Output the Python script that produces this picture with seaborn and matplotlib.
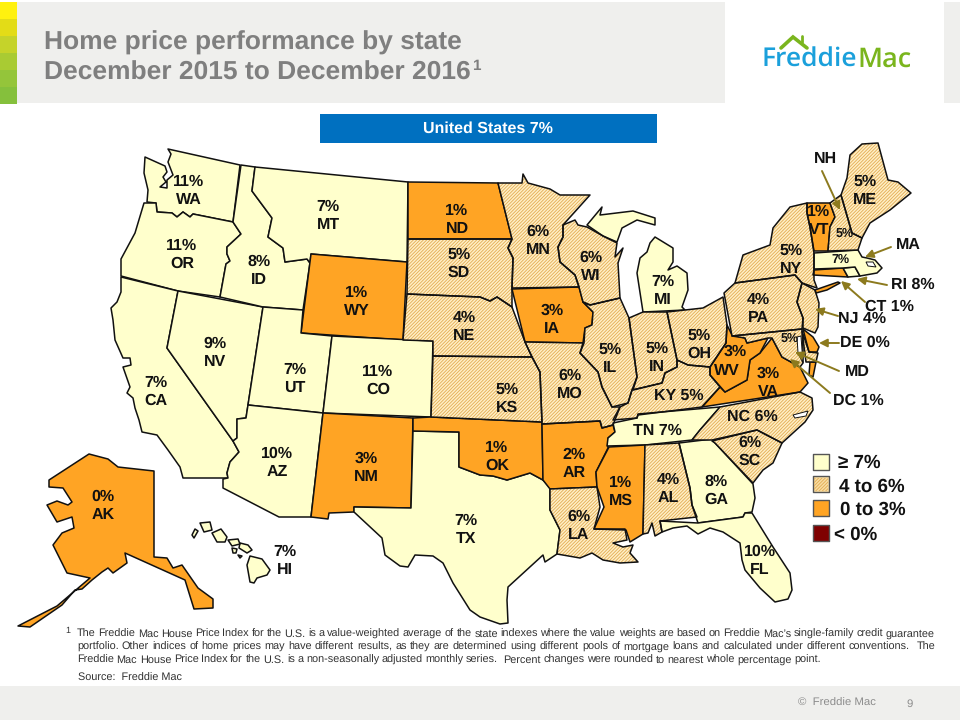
import matplotlib
matplotlib.use('Agg')
import matplotlib.pyplot as plt
from matplotlib.patches import Polygon, Rectangle
import pandas as pd
import seaborn as sns

# values
states = ['WA', 'OR', 'CA', 'NV', 'ID', 'MT', 'WY', 'UT', 'CO', 'AZ', 'NM', 'TX', 'OK', 'KS', 'NE', 'SD', 'ND',
          'MN', 'IA', 'MO', 'AR', 'LA', 'WI', 'IL', 'MI', 'IN', 'OH', 'KY', 'TN', 'MS', 'AL', 'GA', 'FL', 'SC',
          'NC', 'VA', 'WV', 'MD', 'DE', 'PA', 'NJ', 'NY', 'CT', 'RI', 'MA', 'VT', 'NH', 'ME', 'AK', 'HI']
pct = [11, 11, 7, 9, 8, 7, 1, 7, 11, 10, 3, 7, 1, 5, 4, 5, 1,
       6, 3, 6, 2, 6, 6, 5, 7, 5, 5, 5, 7, 1, 4, 8, 10, 6,
       6, 3, 3, 5, 0, 4, 4, 5, 1, 8, 7, 1, 5, 5, 0, 7]
legend_labels = ['≥ 7%', '4 to 6%', '0 to 3%', '< 0%']
legend_colors = ['#FFFFCC', '#F8DDA4', '#FFA424', '#7F0000']
title_lines = ['Home price performance by state', 'December 2015 to December 2016']
footnote_lines = [
    'The Freddie Mac House Price Index for the U.S. is a value-weighted average of the state indexes where the value weights are based on Freddie Mac\u2019s single-family credit guarantee',
    'portfolio. Other indices of home prices may have different results, as they are determined using different pools of mortgage loans and calculated under different conventions.  The',
    'Freddie Mac House Price Index for the U.S. is a non-seasonally adjusted monthly series.  Percent changes were rounded to nearest whole percentage point.',
]

# state outlines traced in image pixels, there is no map library here
shapes = {
    'WA': [[(168,149),(240,165),(233,222),(193,214),(190,217),(183,212),(177,217),(172,213),(157,212),(156,203),(147,202),(148,190),(144,173),(145,157),(165,166),(167,172),(163,177),(166,182),(160,187),(167,188),(167,180),(173,175),(168,162),(171,154)]],
    'OR': [[(144,203),(156,203),(157,212),(172,213),(177,217),(183,212),(190,217),(193,214),(233,222),(241,234),(227,247),(227,254),(230,261),(226,264),(220,297),(178,291),(121,276),(121,259),(135,233)]],
    'CA': [[(121,277),(178,291),(167,348),(233,441),(239,452),(230,462),(227,473),(228,478),(183,478),(180,467),(168,450),(157,435),(142,432),(139,420),(135,408),(133,398),(127,393),(130,387),(123,367),(131,365),(130,358),(123,358),(115,340),(113,320),(111,308),(117,302),(121,292)]],
    'NV': [[(178,291),(263,307),(248,405),(246,418),(237,419),(237,438),(233,441),(167,348)]],
    'ID': [[(241,165),(255,167),(252,191),(272,218),(268,237),(283,248),(285,262),(307,259),(310,263),(303,310),(263,307),(220,297),(226,264),(230,261),(227,254),(227,247),(241,234),(233,222)]],
    'MT': [[(255,167),(408,182),(407,262),(311,254),(310,263),(307,259),(285,262),(283,248),(268,237),(272,218),(252,191)]],
    'WY': [[(311,254),(407,262),(403,340),(301,333)]],
    'UT': [[(263,307),(303,310),(301,333),(332,336),(323,413),(248,405)]],
    'CO': [[(332,336),(433,341),(431,417),(323,413)]],
    'AZ': [[(248,405),(323,413),(311,517),(279,517),(223,488),(223,479),(228,478),(227,473),(230,462),(239,452),(233,441),(237,438),(237,419),(246,418)]],
    'NM': [[(323,413),(413,418),(411,508),(354,507),(354,512),(329,513),(328,519),(311,517)]],
    'TX': [[(413,431),(459,432),(459,467),(480,475),(493,476),(507,480),(530,473),(543,480),(550,488),(550,510),(560,530),(557,554),(545,562),(543,555),(508,587),(507,600),(508,623),(500,624),(480,617),(470,610),(453,583),(443,563),(433,556),(415,555),(408,567),(400,566),(385,555),(382,538),(354,512),(354,507),(411,508)]],
    'OK': [[(413,418),(431,417),(542,422),(543,480),(530,473),(507,480),(493,476),(480,475),(459,467),(459,432),(413,431)]],
    'KS': [[(433,356),(532,357),(540,372),(542,422),(431,417)]],
    'NE': [[(407,294),(480,297),(490,301),(497,297),(512,307),(525,342),(532,357),(433,356),(433,341),(403,340)]],
    'SD': [[(408,239),(512,239),(508,248),(513,258),(512,288),(512,307),(497,297),(490,301),(480,297),(407,294)]],
    'ND': [[(408,182),(498,183),(512,239),(408,239)]],
    'MN': [[(498,183),(522,183),(523,174),(528,183),(550,189),(560,195),(590,195),(563,225),(563,237),(558,247),(560,262),(575,275),(579,287),(512,288),(513,258),(508,248),(512,239)]],
    'IA': [[(512,289),(579,287),(583,302),(593,312),(592,325),(585,328),(583,343),(525,342)]],
    'MO': [[(532,357),(525,342),(583,343),(580,353),(598,372),(602,387),(612,407),(620,407),(613,425),(602,428),(600,421),(542,424),(540,372)]],
    'AR': [[(542,424),(600,421),(602,428),(613,425),(615,432),(608,438),(608,448),(596,472),(597,487),(550,489),(543,480)]],
    'LA': [[(550,489),(597,487),(600,507),(594,529),(625,529),(627,540),(613,543),(623,547),(633,545),(630,553),(638,562),(620,563),(603,560),(592,553),(580,558),(557,554),(560,530),(550,510)]],
    'WI': [[(563,225),(575,220),(578,225),(587,227),(603,236),(617,243),(615,257),(623,248),(618,263),(620,298),(590,305),(583,302),(579,287),(575,275),(560,262),(558,247),(563,237)]],
    'IL': [[(590,305),(620,298),(629,318),(637,377),(632,390),(628,403),(612,407),(602,387),(598,372),(580,353),(584,343),(585,328),(592,325),(593,312),(583,302)]],
    'MI': [[(587,225),(597,213),(602,207),(600,215),(633,211),(655,218),(655,225),(637,220),(622,228),(617,242),(603,236)],
           [(655,237),(673,248),(673,262),(668,270),(677,266),(687,273),(688,290),(682,307),(685,310),(643,312),(637,273),(640,258),(647,252),(650,243)]],
    'IN': [[(629,318),(643,312),(667,312),(677,360),(677,367),(665,373),(662,383),(633,390),(637,377)]],
    'OH': [[(667,312),(703,308),(723,297),(727,325),(726,343),(710,367),(688,365),(677,360)]],
    'KY': [[(677,360),(688,365),(710,367),(710,375),(720,387),(702,407),(638,415),(637,418),(613,420),(620,407),(628,403),(632,390),(662,383),(665,373),(677,367)]],
    'TN': [[(613,423),(637,418),(638,414),(720,407),(700,430),(692,440),(645,445),(607,446),(608,438),(615,432)]],
    'MS': [[(609,447),(645,445),(643,534),(630,542),(626,530),(594,529),(604,507),(597,487),(596,472)]],
    'AL': [[(645,445),(679,443),(690,488),(692,505),(697,517),(660,521),(662,532),(655,536),(652,523),(648,533),(643,534)]],
    'GA': [[(679,443),(712,439),(715,443),(753,484),(755,498),(752,512),(745,513),(743,517),(698,523),(692,505),(690,488)]],
    'FL': [[(660,521),(698,523),(743,517),(745,513),(752,513),(773,547),(790,573),(792,590),(788,599),(775,602),(760,588),(745,570),(742,560),(740,543),(723,532),(710,528),(698,534),(687,526),(673,528),(662,532)]],
    'SC': [[(712,441),(757,430),(782,443),(773,463),(763,470),(753,483),(715,443)]],
    'NC': [[(720,407),(800,392),(812,398),(813,410),(805,422),(782,443),(757,430),(712,440),(692,440),(700,430)]],
    'VA': [[(725,392),(747,380),(750,360),(760,353),(772,338),(782,357),(800,367),(808,383),(800,392),(702,407),(720,387)],
           [(810,362),(816,362),(813,377),(809,375)]],
    'WV': [[(727,325),(732,335),(745,338),(747,343),(768,338),(760,353),(750,360),(747,380),(725,392),(710,375),(710,367),(726,343)]],
    'MD': [[(732,336),(802,329),(803,350),(803,363),(800,367),(782,357),(772,338),(768,338),(747,343),(745,338)],
           [(802,331),(809,352),(818,353),(816,362),(806,362)]],
    'DE': [[(803,329),(813,337),(819,347),(817,352),(809,352)]],
    'PA': [[(735,283),(795,275),(802,283),(797,302),(803,318),(802,329),(732,336),(724,293)]],
    'NJ': [[(802,283),(815,290),(819,303),(818,327),(815,333),(803,328),(803,318),(797,302)]],
    'NY': [[(735,283),(743,255),(770,245),(773,228),(790,207),(807,203),(807,213),(810,227),(814,253),(814,280),(817,288),(802,283),(795,275)]],
    'CT': [[(814,270),(843,268),(848,277),(813,275)],
           [(815,290),(838,282),(840,283),(827,290),(816,293)]],
    'RI': [[(843,268),(855,267),(860,276),(848,277)]],
    'MA': [[(814,253),(858,250),(862,257),(867,258),(875,260),(882,268),(877,273),(860,276),(855,267),(843,268),(814,269)]],
    'VT': [[(807,203),(830,203),(835,217),(830,227),(828,251),(814,251),(810,227),(807,213)]],
    'NH': [[(830,203),(841,195),(852,233),(862,238),(858,250),(828,251),(830,227),(835,217)]],
    'ME': [[(841,195),(847,178),(850,155),(862,144),(878,143),(888,180),(898,182),(911,193),(890,210),(870,223),(862,238),(852,233)]],
    'AK': [[(89,454),(108,459),(118,467),(154,471),(154,557),(167,558),(173,568),(182,565),(198,588),(213,599),(213,608),(194,609),(185,580),(125,553),(127,563),(113,573),(108,568),(102,572),(92,580),(82,589),(75,590),(62,605),(30,627),(18,626),(57,606),(90,578),(67,573),(53,545),(62,533),(74,528),(72,517),(57,522),(47,505),(57,501),(68,505),(72,502),(63,488),(49,487),(49,480)]],
    'HI': [[(250,556),(262,559),(270,570),(267,575),(257,578),(254,583),(250,582),(247,565)],
           [(240,543),(248,545),(252,550),(247,553),(239,548)],
           [(228,540),(238,539),(240,544),(232,546)],
           [(212,533),(221,529),(227,537),(225,542),(217,542)],
           [(200,523),(210,522),(212,530),(204,532)],
           [(192,535),(195,529),(198,531),(194,538)],
           [(232,548),(237,549),(236,553),(233,553)],
           [(238,555),(242,556),(240,558)]],
}
water = [[(797,337),(801,336),(802,350),(803,363),(798,353)],
         [(793,415),(808,411),(806,416),(795,418)],
         [(866,262),(873,262),(876,267),(868,266)]]

# where the labels sit: (x, y, layout)
label_pos = {
    'WA': (189,191,2), 'OR': (182,255,2), 'CA': (156,392,2), 'NV': (215,353,2), 'ID': (259,271,2), 'MT': (328,216,2),
    'WY': (357,302,2), 'UT': (295,379,2), 'CO': (378,381,2), 'AZ': (277,463,2), 'NM': (366,468,2), 'TX': (466,530,2),
    'OK': (497,457,2), 'KS': (507,399,2), 'NE': (464,327,2), 'SD': (459,264,2), 'ND': (457,220,2), 'MN': (538,241,2),
    'IA': (552,320,2), 'MO': (570,385,2), 'AR': (574,464,2), 'LA': (579,526,2), 'WI': (591,267,2), 'IL': (610,359,2),
    'MI': (663,291,2), 'IN': (657,358,2), 'OH': (699,345,2), 'KY': (679,396,1), 'TN': (657,431,1), 'MS': (621,492,2),
    'AL': (668,489,2), 'GA': (716,491,2), 'FL': (760,561,2), 'SC': (750,452,2), 'NC': (752,417,1), 'VA': (768,383,2),
    'PA': (758,309,2), 'NY': (791,260,2), 'VT': (819,221,2), 'ME': (865,191,2), 'AK': (103,506,2),
    'HI': (285,561,2),
}
wv_pos = [(735,352), (727,371)]
small_pos = {'NH': (845,234), 'MA': (841,260), 'MD': (790,339)}
outside_pos = {'NH': (825,159,'NH'), 'MA': (908,245,'MA'), 'RI': (913,285,'RI 8%'), 'CT': (889,307,'CT 1%'),
               'NJ': (862,319,'NJ 4%'), 'DE': (865,343,'DE 0%'), 'MD': (857,372,'MD'), 'DC': (858,401,'DC 1%')}
arrows = [((822,171),(840,210)), ((891,247),(865,257)), ((887,285),(857,279)), ((865,302),(841,281)),
          ((838,316),(815,309)), ((839,343),(819,343)), ((839,371),(795,352)), ((830,393),(790,359))]

BLACK = '#111111'
HATCH_COLOR = '#E3AC52'
OLIVE = '#8C7A1E'

sns.set_theme(style='white')
plt.rcParams['font.family'] = ['Liberation Sans', 'DejaVu Sans']
plt.rcParams['hatch.linewidth'] = 0.6
plt.rcParams['text.hinting'] = 'no_hinting'

fig = plt.figure(figsize=(9.6, 7.2), dpi=100)
ax = fig.add_axes([0, 0, 1, 1])
ax.set_xlim(0, 960)
ax.set_ylim(720, 0)
ax.axis('off')


def bin_index(v):
    if v >= 7:
        return 0
    if v >= 4:
        return 1
    if v >= 0:
        return 2
    return 3


def hatched(xy):
    # hatch follows the edge colour, so fill and outline are separate patches
    ax.add_patch(Polygon(xy, closed=True, facecolor='#FFEFC6', edgecolor=HATCH_COLOR, hatch='/' * 10, lw=0, zorder=2))
    ax.add_patch(Polygon(xy, closed=True, fill=False, edgecolor=BLACK, lw=1.1, joinstyle='round', zorder=3))


# header and footer
ax.add_patch(Rectangle((17, 2), 708, 101, color='#EFEFED', lw=0))
ax.add_patch(Rectangle((944, 2), 16, 101, color='#EFEFED', lw=0))
ax.add_patch(Rectangle((0, 686), 960, 34, color='#EFEFED', lw=0))
strip = ['#FFF10F', '#E3DC17', '#C5D32A', '#A9CB33', '#94C53A', '#85C03C']
for i, c in enumerate(strip):
    ax.add_patch(Rectangle((0, 2 + i * 17), 17, 17, color=c, lw=0))

ax.text(44, 43, title_lines[0], fontsize=19, fontweight='bold', color='#7F7F7F', va='center')
t2 = ax.text(44, 73, title_lines[1], fontsize=19, fontweight='bold', color='#7F7F7F', va='center')
fig.canvas.draw()
renderer = fig.canvas.get_renderer()
t2_end = t2.get_window_extent(renderer).x1
ax.text(t2_end + 1, 66, '1', fontsize=11, fontweight='bold', color='#7F7F7F', va='center')

# logo
ax.plot([781, 793, 807], [48, 37, 48], color='#7AB51D', lw=2.6, solid_joinstyle='miter')
ax.plot([802, 802], [36, 42], color='#7AB51D', lw=2)
ax.text(762, 60, 'Freddie', fontsize=19, fontfamily='Open Sans', fontweight='semibold', color='#1BA0DB', va='center')
ax.text(857, 60, 'Mac', fontsize=19.5, fontfamily='Open Sans', fontweight='semibold', color='#7AB51D', va='center')

# banner
ax.add_patch(Rectangle((320, 114), 337, 29, color='#0070C0', lw=0))
ax.text(488, 129, 'United States 7%', fontsize=11.5, fontweight='bold', color='white', ha='center', va='center')

# map
values = dict(zip(states, pct))
for st in states:
    idx = bin_index(values[st])
    for xy in shapes[st]:
        if idx == 1:
            hatched(xy)
        else:
            ax.add_patch(Polygon(xy, closed=True, facecolor=legend_colors[idx], edgecolor=BLACK, lw=1.1,
                                 joinstyle='round', zorder=2))
for xy in water:
    ax.add_patch(Polygon(xy, closed=True, facecolor='white', edgecolor=BLACK, lw=0.7, zorder=4))

for st, (x, y, layout) in label_pos.items():
    v = f'{values[st]}%'
    s = f'{v}\n{st}' if layout == 2 else f'{st} {v}'
    ax.text(x, y, s, fontsize=11.5, fontweight='bold', color=BLACK, ha='center', va='center', linespacing=1.3, zorder=6)
for (x, y), s in zip(wv_pos, [f"{values['WV']}%", 'WV']):
    ax.text(x, y, s, fontsize=11.5, fontweight='bold', color=BLACK, ha='center', va='center', zorder=6)
for st, (x, y) in small_pos.items():
    ax.text(x, y, f'{values[st]}%', fontsize=9, fontweight='bold', color=BLACK, ha='center', va='center', zorder=6)
for st, (x, y, s) in outside_pos.items():
    ax.text(x, y, s, fontsize=11.5, fontweight='bold', color=BLACK, ha='center', va='center', zorder=6)
for a, b in arrows:
    ax.annotate('', xy=b, xytext=a, zorder=7,
                arrowprops=dict(arrowstyle='-|>,head_width=0.2,head_length=0.4', color=OLIVE, lw=1.4,
                                shrinkA=0, shrinkB=0))

# legend swatches
leg = pd.DataFrame({'label': legend_labels, 'x': 821.0, 'y': [462.0, 484.0, 508.0, 533.0]})
sns.scatterplot(data=leg, x='x', y='y', hue='label', palette=dict(zip(legend_labels, legend_colors)),
                marker='s', s=135, edgecolor='#555555', linewidth=1, legend=False, ax=ax, zorder=5)
ax.set_xlim(0, 960)
ax.set_ylim(720, 0)
ax.add_patch(Rectangle((814, 477.5), 14, 13, facecolor='none', edgecolor=HATCH_COLOR, hatch='/' * 10, lw=0, zorder=6))
for lab, y, x in zip(legend_labels, [463, 487, 510, 535], [838, 839, 840, 834]):
    ax.text(x, y, lab, fontsize=13.5, fontweight='bold', color=BLACK, va='center', zorder=6)

# footnote, justified by hand
FOOT = 7.8
ax.text(65, 631, '1', fontsize=6.5, color='#333333', va='center')
for i, line in enumerate(footnote_lines):
    y = 637 + i * 13
    words = line.split(' ')
    widths = []
    for w in words:
        tmp = ax.text(0, 0, w, fontsize=FOOT, color='#333333')
        widths.append(tmp.get_window_extent(renderer).width)
        tmp.remove()
    left = 77
    right = 935 if i < 2 else 821
    gap = (right - left - sum(widths)) / (len(words) - 1)
    x = left
    for w, wd in zip(words, widths):
        ax.text(x, y, w, fontsize=FOOT, color='#333333', va='baseline')
        x += wd + gap
ax.text(78, 681, 'Source:  Freddie Mac', fontsize=FOOT, color='#333333', va='baseline')
ax.text(798, 703, '©  Freddie Mac', fontsize=8.2, color='#8C8C8C', va='center')
ax.text(906, 704, '9', fontsize=8.2, color='#8C8C8C', va='center')

fig.savefig('out.png', dpi=100, facecolor='white')
